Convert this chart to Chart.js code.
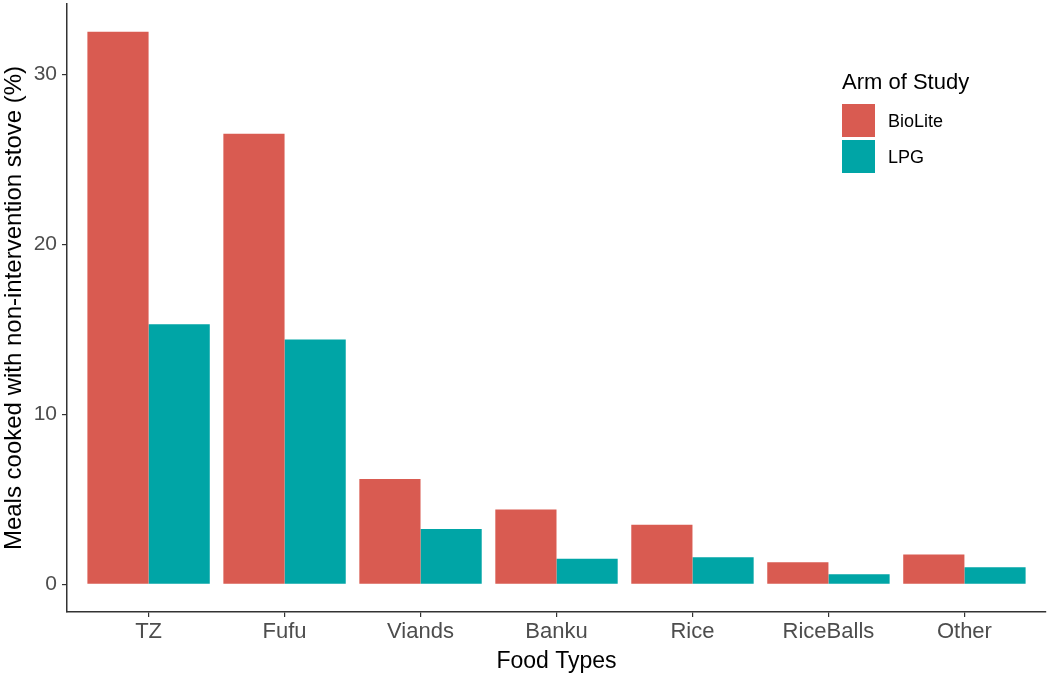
<!DOCTYPE html>
<html>
<head>
<meta charset="utf-8">
<script src="https://cdn.jsdelivr.net/npm/chart.js@4"></script>
<style>
  body { margin: 0; background: #fff; }
</style>
</head>
<body>
<canvas id="chart" width="1050" height="675"></canvas>
<script>
const foodTypes = ["TZ", "Fufu", "Viands", "Banku", "Rice", "RiceBalls", "Other"];
const biolite = [32.5, 26.5, 6.2, 4.4, 3.5, 1.3, 1.75];
const lpg = [15.3, 14.4, 3.25, 1.5, 1.6, 0.6, 1.0];
const yTicks = [0, 10, 20, 30];

const toPoints = vals => vals.map((v, i) => ({ x: i, y: v }));
const FONT = "'Liberation Sans', Arial, sans-serif";

// legend drawn inside the plot like ggplot
const insideLegend = {
  id: "insideLegend",
  afterDraw(chart) {
    const ctx = chart.ctx;
    const x = 842;
    ctx.save();
    ctx.fillStyle = "#000";
    ctx.font = "22px " + FONT;
    ctx.textBaseline = "middle";
    ctx.fillText("Arm of Study", x, 83);
    chart.data.datasets.forEach((ds, i) => {
      const top = 104 + i * 36;
      ctx.fillStyle = ds.backgroundColor;
      ctx.fillRect(x, top, 33, 33);
      ctx.fillStyle = "#000";
      ctx.font = "18px " + FONT;
      ctx.fillText(ds.label, x + 46, top + 18);
    });
    ctx.restore();
  }
};

const ctx = document.getElementById("chart").getContext("2d");
new Chart(ctx, {
  type: "bar",
  data: {
    datasets: [{
      label: "BioLite",
      data: toPoints(biolite),
      backgroundColor: "#d95b51",
      borderWidth: 0
    }, {
      label: "LPG",
      data: toPoints(lpg),
      backgroundColor: "#00a5a6",
      borderWidth: 0
    }]
  },
  options: {
    responsive: false,
    animation: false,
    layout: { padding: { top: 4, right: 4, left: 0, bottom: 0 } },
    datasets: { bar: { categoryPercentage: 0.9, barPercentage: 1.0 } },
    plugins: {
      legend: { display: false },
      tooltip: { enabled: false }
    },
    scales: {
      x: {
        type: "linear",
        min: -0.6,
        max: 6.6,
        offset: false,
        afterBuildTicks: axis => { axis.ticks = foodTypes.map((_, i) => ({ value: i })); },
        afterFit: axis => { axis.height = 63; axis.paddingLeft = 0; axis.paddingRight = 0; },
        ticks: {
          callback: v => foodTypes[v],
          color: "#4d4d4d",
          font: { family: FONT, size: 22 },
          padding: 2,
          maxRotation: 0,
          autoSkip: false
        },
        grid: { offset: false, drawOnChartArea: false, drawTicks: true, tickLength: 5, color: "#333", lineWidth: 1.2 },
        border: { display: true, color: "#333", width: 1.5 },
        title: {
          display: true,
          text: "Food Types",
          color: "#000",
          font: { family: FONT, size: 23 },
          padding: { top: 0, bottom: 0 }
        }
      },
      y: {
        min: -1.625,
        max: 34.125,
        afterBuildTicks: axis => { axis.ticks = yTicks.map(v => ({ value: v })); },
        afterFit: axis => { axis.width = 67; axis.paddingTop = 0; axis.paddingBottom = 0; },
        ticks: {
          color: "#4d4d4d",
          font: { family: FONT, size: 21 },
          padding: 5
        },
        grid: { drawOnChartArea: false, drawTicks: true, tickLength: 5, color: "#333", lineWidth: 1.2 },
        border: { display: true, color: "#333", width: 1.5 },
        title: {
          display: true,
          text: "Meals cooked with non-intervention stove (%)",
          color: "#000",
          font: { family: FONT, size: 24 },
          padding: { top: 0, bottom: 0 }
        }
      }
    }
  },
  plugins: [insideLegend]
});
</script>
</body>
</html>
